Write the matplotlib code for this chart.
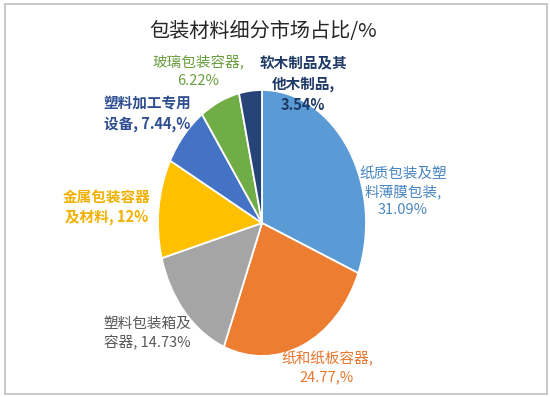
import matplotlib.pyplot as plt
from matplotlib.patches import Rectangle

plt.rcParams['font.family'] = ['Noto Sans CJK SC', 'DejaVu Sans']

# data (clockwise from 12 o'clock)
categories = ["纸质包装及塑料薄膜包装", "纸和纸板容器", "塑料包装箱及容器", "金属包装容器及材料",
              "塑料加工专用设备", "玻璃包装容器", "软木制品及其他木制品"]
shares = [31.09, 24.77, 14.73, 12.0, 7.44, 6.22, 3.54]
label_texts = ["纸质包装及塑\n料薄膜包装,\n31.09%", "纸和纸板容器,\n24.77,%", "塑料包装箱及\n容器, 14.73%",
               "金属包装容器\n及材料, 12%", "塑料加工专用\n设备, 7.44,%", "玻璃包装容器,\n6.22%",
               "软木制品及其\n他木制品,\n3.54%"]
colors = ["#5B9BD5", "#ED7D31", "#A5A5A5", "#FFC000", "#4472C4", "#70AD47", "#264478"]
text_colors = ["#4A86C0", "#E8772E", "#595959", "#F2B100", "#2F4E92", "#6A9E3F", "#1F3A66"]
# label centres in pixels (x, y from top)
label_pos = [(403, 192), (327, 368), (147, 334), (107, 207), (147, 114), (198, 72), (303, 84)]
bold = [False, False, False, True, True, False, True]

W, H = 550, 397
fig = plt.figure(figsize=(W / 100, H / 100), dpi=100)
fig.patch.set_facecolor("white")

# pie is stretched vertically in the original
cx, cy, rx, ry = 262, 223, 104, 133
ax = fig.add_axes([0, 0, 1, 1])
ax.pie(shares, colors=colors, startangle=90, counterclock=False,
       wedgeprops=dict(edgecolor="white", linewidth=1.3))
ax.set_aspect("auto")
ax.set_xlim(-cx / rx, (W - cx) / rx)
ax.set_ylim(-(H - cy) / ry, cy / ry)
ax.axis("off")

fig.patches.append(Rectangle((5 / W, 3 / H), 542 / W, 390 / H, transform=fig.transFigure,
                             fill=False, edgecolor="#BFBFBF", linewidth=1.2))

fig.text(263 / W, 1 - 32 / H, "包装材料细分市场占比/%", ha="center", va="center",
         fontsize=14.5, color="#262626")

for txt, (px, py), c, b in zip(label_texts, label_pos, text_colors, bold):
    fig.text(px / W, 1 - py / H, txt, ha="center", va="center", fontsize=10.5, color=c,
             fontweight="bold" if b else "normal", linespacing=1.35)

fig.savefig("out.png", dpi=100)
